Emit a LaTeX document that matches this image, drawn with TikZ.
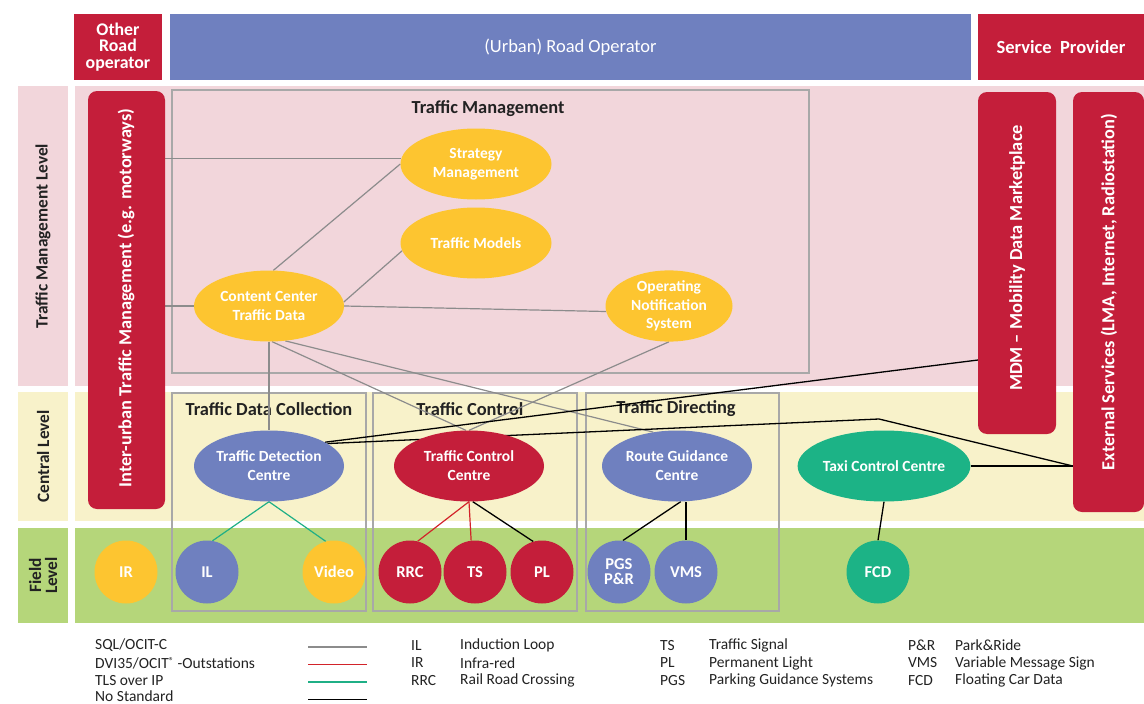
\documentclass[tikz,border=0pt]{standalone}
\usepackage{fontspec}
\setmainfont{Carlito}
\usetikzlibrary{shapes.geometric,calc}
\pgfdeclarelayer{back}
\pgfdeclarelayer{links}
\pgfsetlayers{back,links,main}

\definecolor{cred}{HTML}{C41E3A}
\definecolor{cblue}{HTML}{6F80BF}
\definecolor{cyellow}{HTML}{FDC530}
\definecolor{cteal}{HTML}{1CB386}
\definecolor{cpink}{HTML}{F2D6DB}
\definecolor{clight}{HTML}{F8F2CA}
\definecolor{cgreen}{HTML}{B5D67A}
\definecolor{cframe}{HTML}{A8A8A8}
\definecolor{cgrayline}{HTML}{8C8C8C}
\definecolor{ctext}{HTML}{222222}
\definecolor{clgred}{HTML}{D2232A}
\definecolor{clgteal}{HTML}{1FAF86}

\begin{document}
\begin{tikzpicture}[x=1pt,y=-1pt,
  hdr/.style={fill=#1,draw=none,inner sep=0pt,text=white,align=center,
    font=\fontsize{17.8}{16.2}\selectfont\bfseries},
  lvl/.style={fill=#1,draw=none,inner sep=0pt,minimum width=50},
  lvltext/.style={rotate=90,text=ctext,align=center,
    font=\fontsize{17.3}{16}\selectfont\bfseries},
  vbox/.style={fill=cred,draw=none,rounded corners=9pt,inner sep=0pt},
  vtext/.style={rotate=90,text=white,font=\fontsize{18.4}{18}\selectfont\bfseries},
  group/.style={draw=cframe,line width=1.1pt},
  gtitle/.style={text=ctext,font=\fontsize{18.4}{18}\selectfont\bfseries},
  unit/.style={ellipse,fill=#1,draw=none,inner sep=0pt,minimum width=151,
    minimum height=71,text=white,align=center,
    font=\fontsize{15.5}{19}\selectfont\bfseries},
  dev/.style={circle,fill=#1,draw=none,inner sep=0pt,minimum size=63,
    text=white,align=center,font=\fontsize{16.5}{15}\selectfont\bfseries},
  sql/.style={draw=cgrayline,line width=1.2pt},
  dvi/.style={draw=clgred,line width=1.2pt},
  tls/.style={draw=clgteal,line width=1.2pt},
  nostd/.style={draw=black,line width=1.3pt},
  legend/.style={anchor=west,inner sep=0pt,text=ctext,
    font=\fontsize{15.5}{16}\selectfont}
]
\useasboundingbox (0,0) rectangle (1144,704);

% ---------- header row ----------
\node[hdr=cred,minimum width=88,minimum height=66] (other) at (118,47)
  {Other\\Road\\operator};
\node[hdr=cblue,minimum width=801,minimum height=66,font=\fontsize{18.5}{16}\selectfont] (urban) at (570.5,47)
  {(Urban) Road Operator};
\node[hdr=cred,minimum width=166,minimum height=66,font=\fontsize{18.5}{16}\selectfont\bfseries] (sprov) at (1061,47)
  {Service\ \ Provider};

% ---------- level columns and bands ----------
\begin{pgfonlayer}{back}
  \node[lvl=cpink,minimum height=300] (lvtm) at (43,236) {};
  \node[lvl=clight,minimum height=129] (lvcl) at (43,456.5) {};
  \node[lvl=cgreen,minimum height=95] (lvfl) at (43,575.5) {};
  \fill[cpink] (75,86) rectangle (1144,386);
  \fill[clight] (75,392) rectangle (1144,521);
  \fill[cgreen] (75,528) rectangle (1144,623);
  % functional groups
  \draw[group] (172,90) rectangle (809,373);
  \draw[group] (172,393) rectangle (366,611);
  \draw[group] (373,393) rectangle (577,611);
  \draw[group] (586,393) rectangle (779,611);
  \node[gtitle] (tmtitle) at (488,108.5) {Traffic Management};
  \node[gtitle] (tdctitle) at (269,409) {Traffic Data Collection};
  \node[gtitle] (tctitle) at (470,409) {Traffic Control};
  \node[gtitle] (tdtitle) at (676,409) {Traffic Directing};
\end{pgfonlayer}
\node[lvltext] (lvtmtext) at (lvtm) {Traffic Management Level};
\node[lvltext] (lvcltext) at (lvcl) {Central Level};
\node[lvltext] (lvfltext) at (lvfl) {Field\\Level};

% ---------- tall boxes ----------
\node[vbox,minimum width=77,minimum height=418] (inter) at (126.5,300) {};
\node[vtext] (intertext) at (126,298) {Inter-urban Traffic Management (e.g. motorways)};
\node[vbox,minimum width=78,minimum height=342] (mdm) at (1017,263) {};
\node[vtext] (mdmtext) at (1017,258) {MDM -- Mobility Data Marketplace};
\node[vbox,minimum width=71,minimum height=420] (ext) at (1108.5,302) {};
\node[vtext] (exttext) at (1109,292) {External Services (LMA, Internet, Radiostation)};

% ---------- traffic management ----------
\node[unit=cyellow] (strat) at (476,164) {Strategy\\Management};
\node[unit=cyellow] (models) at (476,243) {Traffic Models};
\node[unit=cyellow,minimum width=150] (ccd) at (269,306) {Content Center\\Traffic Data};
\node[unit=cyellow,minimum width=127,font=\fontsize{15.5}{18.5}\selectfont\bfseries] (ons) at (669,306) {Operating\\Notification\\System};

% ---------- central level ----------
\node[unit=cblue,minimum width=150] (tdc) at (269,466) {Traffic Detection\\Centre};
\node[unit=cred,minimum width=150] (tcc) at (469,466) {Traffic Control\\Centre};
\node[unit=cblue,minimum width=150] (rgc) at (677,466) {Route Guidance\\Centre};
\node[unit=cteal] (taxi) at (884,466) {Taxi Control Centre};

% ---------- field level ----------
\node[dev=cyellow] (ir) at (126,572) {IR};
\node[dev=cblue] (il) at (207,572) {IL};
\node[dev=cyellow] (video) at (334,572) {Video};
\node[dev=cred] (rrc) at (410,572) {RRC};
\node[dev=cred] (ts) at (475,572) {TS};
\node[dev=cred] (pl) at (542,572) {PL};
\node[dev=cblue] (pgs) at (619,572) {PGS\\P\&R};
\node[dev=cblue] (vms) at (686,572) {VMS};
\node[dev=cteal] (fcd) at (878,572) {FCD};

% ---------- connectors ----------
\coordinate (bend) at (879,419);
\coordinate (mdmin) at (978,360);
\begin{pgfonlayer}{links}
  % SQL/OCIT-C
  \draw[sql] (inter.east |- strat.176) -- (strat.176);
  \draw[sql] (inter.east |- ccd.west) -- (ccd.west);
  \draw[sql] (ccd.83) -- (strat.west);
  \draw[sql] (ccd.3) -- (models.186);
  \draw[sql] (ccd.east) -- (ons.185);
  \draw[sql] (ccd.south) -- (tdc.north);
  \draw[sql] (ccd.-85) -- (tcc.95);
  \draw[sql] (ccd.-65) -- (rgc.125);
  \draw[sql] (ons.south) -- (tcc.north);
  % no standard
  \draw[nostd] (tdc.23) -- (mdmin);
  \draw[nostd] (tdc.21) -- (bend) -- (ext.west |- taxi.east);
  \draw[nostd] (taxi.east) -- (ext.west |- taxi.east);
  \draw[nostd] (taxi.south) -- (fcd.north);
  \draw[nostd] (tcc.-84) -- (pl.106);
  \draw[nostd] (rgc.-84) -- (pgs.83);
  \draw[nostd] (vms.north |- rgc.south) -- (vms.north);
  % DVI35/OCIT outstations
  \draw[dvi] (tcc.south) -- (rrc.76);
  \draw[dvi] (tcc.south) -- (ts.97);
  % TLS over IP
  \draw[tls] (tdc.south) -- (il.80);
  \draw[tls] (tdc.south) -- (video.105);
\end{pgfonlayer}

% ---------- legend ----------
\node[legend] (l1) at (95,645.5) {SQL/OCIT-C};
\node[legend] (l2) at (95,663) {DVI35/OCIT{\fontsize{10}{10}\selectfont\raisebox{4pt}{®}} -Outstations};
\node[legend] (l3) at (95,680.5) {TLS over IP};
\node[legend] (l4) at (95,696.5) {No Standard};
\draw[sql] (308,647) -- (367,647);
\draw[dvi] (308,664.5) -- (367,664.5);
\draw[tls] (308,682) -- (367,682);
\draw[nostd] (308,699.5) -- (367,699.5);

\node[legend] (a1) at (411,645.5) {IL};
\node[legend] (a2) at (411,663) {IR};
\node[legend] (a3) at (411,680.5) {RRC};
\node[legend] (d1) at (460,645.5) {Induction Loop};
\node[legend] (d2) at (460,663) {Infra-red};
\node[legend] (d3) at (460,680.5) {Rail Road Crossing};

\node[legend] (a4) at (660,645.5) {TS};
\node[legend] (a5) at (660,663) {PL};
\node[legend] (a6) at (660,680.5) {PGS};
\node[legend] (d4) at (709,645.5) {Traffic Signal};
\node[legend] (d5) at (709,663) {Permanent Light};
\node[legend] (d6) at (709,680.5) {Parking Guidance Systems};

\node[legend] (a7) at (908,645.5) {P\&R};
\node[legend] (a8) at (908,663) {VMS};
\node[legend] (a9) at (908,680.5) {FCD};
\node[legend] (d7) at (955,645.5) {Park\&Ride};
\node[legend] (d8) at (955,663) {Variable Message Sign};
\node[legend] (d9) at (955,680.5) {Floating Car Data};
\end{tikzpicture}
\end{document}
